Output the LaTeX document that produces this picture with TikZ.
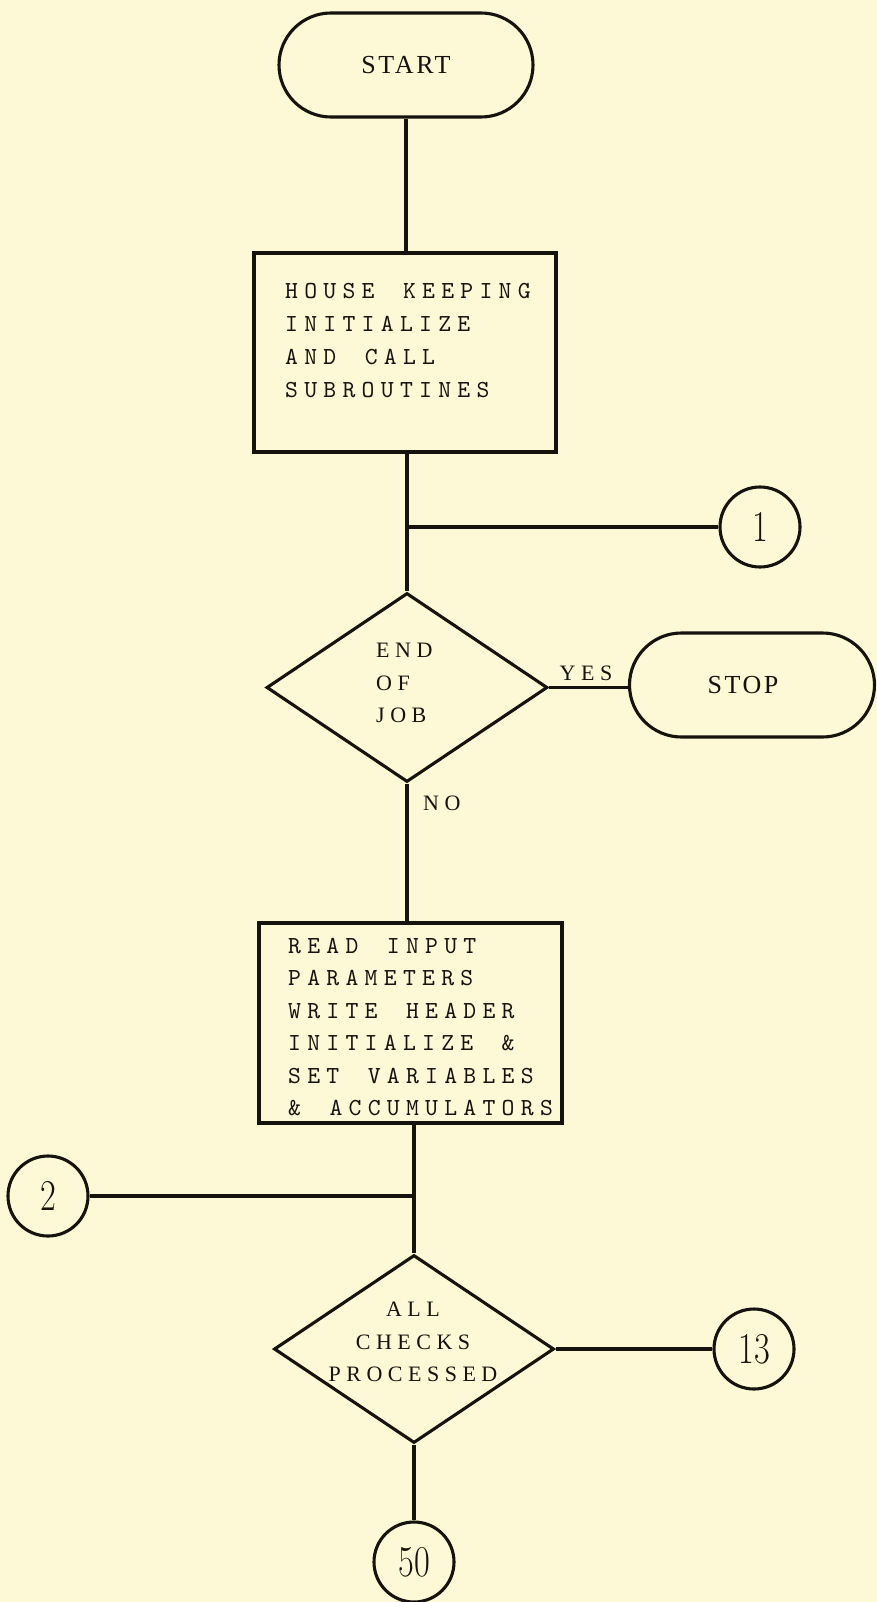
\documentclass[tikz,border=0pt]{standalone}
\usepackage{fontspec}
\usepackage{graphicx}
\usetikzlibrary{shapes.geometric,shapes.misc}
\newfontfamily\lblfont[LetterSpace=25]{Liberation Serif}
\newfontfamily\termfont[LetterSpace=10]{Liberation Serif}
\newfontfamily\twfont[Extension=.otf,LetterSpace=25.6,WordSpace=1.488]{lmmono10-regular}
\definecolor{bgc}{RGB}{253,249,214}
\definecolor{inkc}{RGB}{22,18,14}
\newcommand\dig[1]{\scalebox{0.78}[1]{\fontsize{44}{44}\selectfont #1}}
\newcommand\twsize[1]{\twfont\fontsize{24.5}{#1}\selectfont}
\tikzset{
 ink/.style={line width=3.1pt, draw=inkc},
 term/.style={rounded rectangle, ink, inner sep=0pt, text=inkc, font=\termfont\fontsize{26}{26}\selectfont},
 proc/.style={rectangle, ink, inner sep=0pt},
 dec/.style={diamond, ink, inner sep=0pt},
 conn/.style={circle, ink, minimum size=80pt, inner sep=0pt, text=inkc},
 boxtxt/.style={inner sep=0pt, align=left, text=inkc, font=\twsize{33}},
 lbl/.style={inner sep=0pt, text=inkc, font=\lblfont\fontsize{22}{32.5}\selectfont},
 wire/.style={ink, line cap=butt},
}
\begin{document}
\begin{tikzpicture}[x=1pt,y=-1pt]
\useasboundingbox (0,0) rectangle (877,1602);
\fill[bgc] (0,0) rectangle (877,1602);

% top column
\node[term, minimum width=254pt, minimum height=104pt] (start) at (406,65) {START};
\node[proc, minimum width=302pt, minimum height=199pt] (hk) at (405,352.5) {};
\node[boxtxt, anchor=north west] (hkt) at (285,283) {HOUSE KEEPING\\INITIALIZE\\AND CALL\\SUBROUTINES};
\coordinate (j1) at (406,527);
\node[conn] (c1) at (760,527) {\dig{1}};
\node[dec, minimum width=281pt, minimum height=189pt] (eoj) at (407,687.5) {};
\node[lbl, align=left, anchor=north west] (eojt) at (376,643) {END\\OF\\JOB};
\node[term, minimum width=245pt, minimum height=104pt] (stop) at (752,685) {STOP\hspace*{18pt}};
\node[lbl, anchor=base] (yes) at (586,680) {YES};
\node[lbl, anchor=base west] (no) at (423,810) {NO};

% second part
\node[proc, minimum width=303pt, minimum height=200pt] (rd) at (410.5,1023) {};
\node[boxtxt, anchor=north west, font=\twsize{32.4}] (rdt) at (288,938) {READ INPUT\\PARAMETERS\\WRITE HEADER\\INITIALIZE \&\\SET VARIABLES\\\& ACCUMULATORS};
\coordinate (j2) at (414,1196);
\node[conn] (c2) at (48,1196) {\dig{2}};
\node[dec, minimum width=280pt, minimum height=188pt] (acp) at (414,1349) {};
\node[lbl, align=center, anchor=north] (acpt) at (413,1302) {ALL\\CHECKS\\PROCESSED};
\node[conn] (c13) at (754,1349) {\dig{13}};
\node[conn] (c50) at (414,1562) {\dig{50}};

% connectors
\draw[wire] (start.south) -- (start.south |- hk.north);
\draw[wire] (hk.south -| eoj.north) -- (eoj.north);
\draw[wire] (j1) -- (c1);
\draw[wire] (eoj.east) -- (eoj.east -| stop.west);
\draw[wire] (eoj.south) -- (eoj.south |- rd.north);
\draw[wire] (rd.south -| acp.north) -- (acp.north);
\draw[wire] (c2) -- (j2);
\draw[wire] (acp.east) -- (c13);
\draw[wire] (acp.south) -- (c50);
\end{tikzpicture}
\end{document}
